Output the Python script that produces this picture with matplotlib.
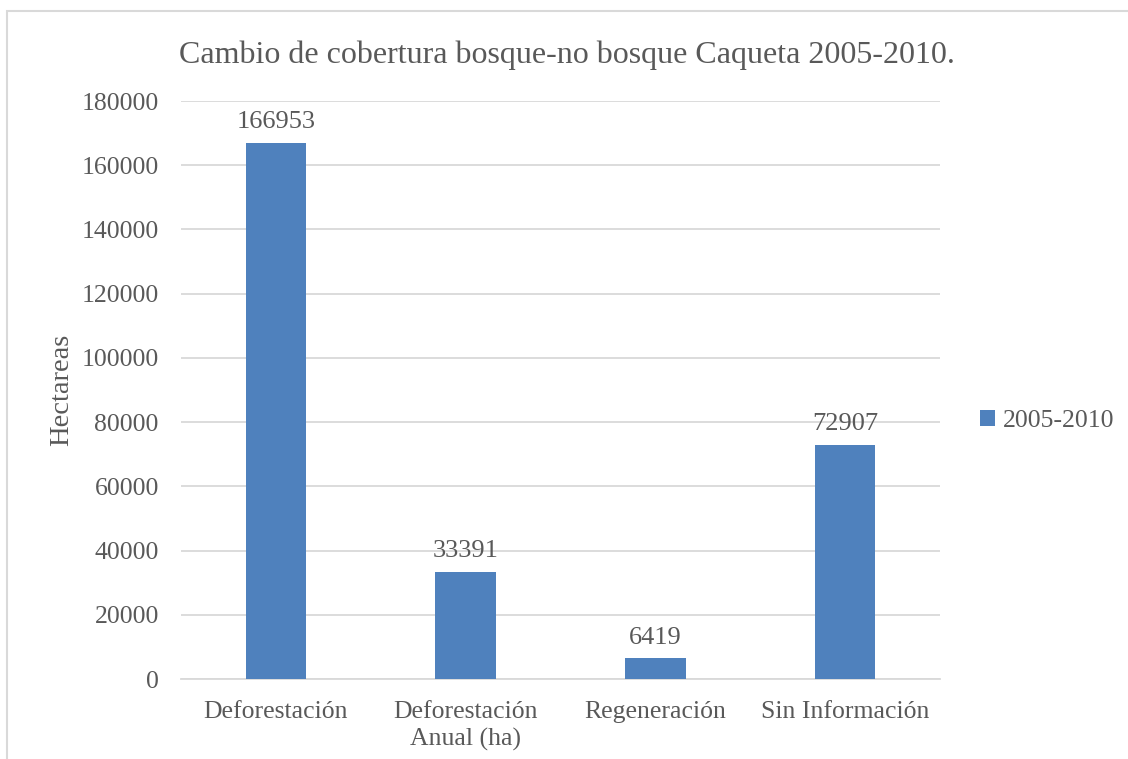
import matplotlib.pyplot as plt
from matplotlib.patches import Rectangle

# datos de cobertura Caqueta
categorias = ["Deforestación", "Deforestación\nAnual (ha)", "Regeneración", "Sin Información"]
valores = [166953, 33391, 6419, 72907]
serie = "2005-2010"
yticks = [0, 20000, 40000, 60000, 80000, 100000, 120000, 140000, 160000, 180000]

azul = "#4F81BD"
gris_txt = "#595959"
gris_lin = "#D9D9D9"
fuente = "Liberation Serif"

fig = plt.figure(figsize=(11.28, 7.59), dpi=100)
ax = fig.add_axes([0.1605, 0.1054, 0.6728, 0.7615])

x = range(len(categorias))
barras = ax.bar(x, valores, width=0.32, color=azul, label=serie, zorder=3)

# etiquetas de valor sobre cada barra
for xi, v in zip(x, valores):
    ax.annotate(str(v), (xi, v), xytext=(0, 7), textcoords="offset points",
                ha="center", va="bottom", fontsize=19, color=gris_txt, family=fuente)

ax.set_xlim(-0.5, len(categorias) - 0.5)
ax.set_ylim(0, 180000)
ax.set_yticks(yticks)
ax.set_yticklabels([str(t) for t in yticks])
ax.set_xticks(list(x))
ax.set_xticklabels(categorias, linespacing=1.25)
ax.tick_params(length=0, labelsize=18.5, labelcolor=gris_txt)
ax.tick_params(axis="y", pad=16)
ax.tick_params(axis="x", pad=16)
for lbl in ax.get_xticklabels() + ax.get_yticklabels():
    lbl.set_family(fuente)

ax.grid(axis="y", color=gris_lin, linewidth=1.3, zorder=0)
for s in ["top", "right", "left"]:
    ax.spines[s].set_visible(False)
ax.spines["bottom"].set_color(gris_lin)
ax.spines["bottom"].set_linewidth(1.3)

ax.set_ylabel("Hectareas", fontsize=20.5, color=gris_txt, family=fuente, labelpad=5)

fig.text(0.5025, 0.927, "Cambio de cobertura bosque-no bosque Caqueta 2005-2010.",
         ha="center", va="center", fontsize=23, color=gris_txt, family=fuente)

leg = fig.legend(handles=[barras], labels=[serie], loc="center left",
                 bbox_to_anchor=(0.848, 0.445), frameon=False, handlelength=0.6,
                 handleheight=0.6, handletextpad=0.3, prop={"family": fuente, "size": 18.5})
for t in leg.get_texts():
    t.set_color(gris_txt)

# marco gris del grafico
fig.patches.append(Rectangle((7 / 1128, -0.1), 1.2, 1 - 11 / 759 + 0.1,
                             transform=fig.transFigure, fill=False,
                             edgecolor="#D9D9D9", linewidth=1.5))

fig.savefig("out.png", dpi=100)
